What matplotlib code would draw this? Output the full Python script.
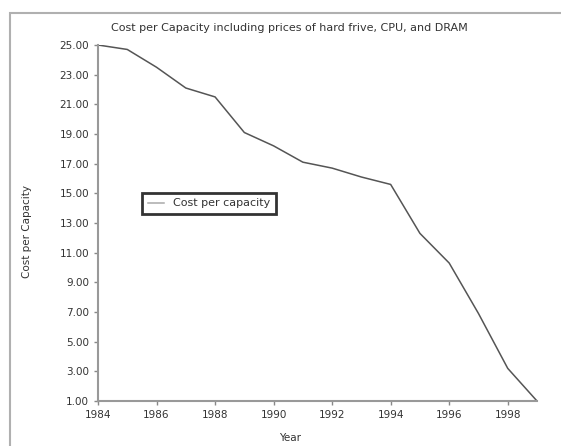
import matplotlib
matplotlib.use('Agg')
import matplotlib.pyplot as plt
from matplotlib.patches import Rectangle

# values
years = [1984, 1985, 1986, 1987, 1988, 1989, 1990, 1991, 1992, 1993, 1994, 1995, 1996, 1997, 1998, 1999]
cost = [25.0, 24.7, 23.5, 22.1, 21.5, 19.1, 18.2, 17.1, 16.7, 16.1, 15.6, 12.3, 10.3, 6.9, 3.2, 1.0]
yticks = [1, 3, 5, 7, 9, 11, 13, 15, 17, 19, 21, 23, 25]
xticks = [1984, 1986, 1988, 1990, 1992, 1994, 1996, 1998]

fs = 7.5
txt = '#333333'

fig = plt.figure(figsize=(5.61, 4.46), dpi=100)
ax = fig.add_axes([98 / 561, 45 / 446, 439 / 561, 356 / 446])

# outer frame of the original chart window
fig.patches.append(Rectangle((10 / 561, -0.01), 1.0, (446 - 13) / 446 + 0.01,
                             transform=fig.transFigure, fill=False,
                             edgecolor='#b0b0b0', linewidth=1.5))

ax.plot(years, cost, color='#555555', linewidth=1.1, label='Cost per capacity')

ax.set_xlim(1984, 1999)
ax.set_ylim(1, 25)
ax.set_xticks(xticks)
ax.set_yticks(yticks)
ax.set_yticklabels([f'{v:.2f}' for v in yticks])
ax.tick_params(labelsize=fs, length=3, width=1, color='#888888', labelcolor=txt)

for side in ['top', 'right']:
    ax.spines[side].set_visible(False)
for side in ['left', 'bottom']:
    ax.spines[side].set_color('#999999')
    ax.spines[side].set_linewidth(1.5)

fig.text(289 / 561, 1 - 28 / 446, 'Cost per Capacity including prices of hard frive, CPU, and DRAM',
         fontsize=8, color=txt, ha='center', va='center')
fig.text(290 / 561, 1 - 438 / 446, 'Year', fontsize=fs, color=txt, ha='center', va='center')
fig.text(27 / 561, 1 - 231 / 446, 'Cost per Capacity', fontsize=fs, color=txt,
         ha='center', va='center', rotation=90)

leg = ax.legend(loc='center left', bbox_to_anchor=(0.088, 0.555), fontsize=8,
                frameon=True, fancybox=False, handlelength=1.5, borderpad=0.5)
leg.get_frame().set_edgecolor('black')
leg.get_frame().set_linewidth(2)
leg.get_lines()[0].set_color('#aaaaaa')
for t in leg.get_texts():
    t.set_color(txt)

plt.savefig('out.png', dpi=100)
